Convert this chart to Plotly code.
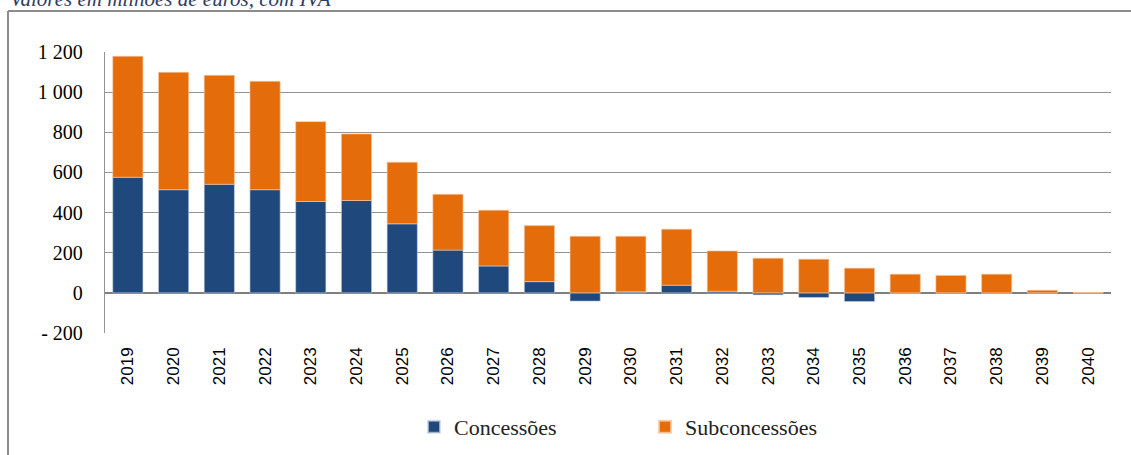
import plotly.graph_objects as go

years = [str(y) for y in range(2019, 2041)]
concessoes = [576, 514, 541, 514, 455, 460, 344, 213, 134, 56, -41, 5, 38, 8, -10, -23, -43, -2, 0, -2, 0, 0]
subconcessoes = [603, 585, 543, 540, 398, 332, 307, 278, 278, 279, 282, 277, 279, 201, 173, 168, 123, 93, 87, 93, 13, 2]
tick_vals = [-200, 0, 200, 400, 600, 800, 1000, 1200]
tick_text = ["- 200", "0", "200", "400", "600", "800", "1 000", "1 200"]
title_text = "Valores em milhões de euros, com IVA"

W, H = 1131, 455
L, R, T, B = 105, 20, 52, 122
pw, ph = W - L - R, H - T - B

def px(x):
    return (x - L) / pw

def py(y):
    return (H - B - y) / ph

BLUE = "#1F497D"
ORANGE = "#E46C0A"
SERIF = "'Liberation Serif', 'DejaVu Serif', 'Times New Roman', serif"
SANS = "'Liberation Sans', Arial, sans-serif"

fig = go.Figure()
fig.add_trace(go.Bar(x=years, y=concessoes, name="Concessões",
                     marker=dict(color=BLUE, line=dict(color="rgba(200,210,225,0.7)", width=0.8))))
fig.add_trace(go.Bar(x=years, y=subconcessoes, name="Subconcessões",
                     marker=dict(color=ORANGE, line=dict(color="rgba(250,200,160,0.8)", width=0.8))))

fig.update_layout(
    width=W, height=H,
    margin=dict(l=L, r=R, t=T, b=B, autoexpand=False),
    barmode="relative", bargap=0.34,
    plot_bgcolor="white", paper_bgcolor="white",
    font=dict(family=SERIF, color="black"),
    showlegend=True,
    legend=dict(orientation="h", x=px(414), xanchor="left", y=py(427), yanchor="middle",
                font=dict(family=SERIF, size=22, color="#222222"),
                entrywidth=186, entrywidthmode="pixels", traceorder="normal",
                itemsizing="constant", bgcolor="rgba(0,0,0,0)"),
    xaxis=dict(type="category", showgrid=False, showline=False, ticks="",
               tickangle=-90, tickfont=dict(family=SANS, size=17, color="black"),
               ticklabelstandoff=10),
    yaxis=dict(range=[-200, 1200], tickvals=tick_vals, ticktext=tick_text,
               showgrid=True, gridcolor="#949494", gridwidth=1.4,
               zeroline=True, zerolinecolor="#7f7f7f", zerolinewidth=2,
               showline=True, linecolor="#949494", linewidth=1.4,
               ticks="", tickfont=dict(family=SERIF, size=20, color="black"),
               ticklabelstandoff=17),
    shapes=[
        dict(type="line", xref="paper", yref="paper", x0=px(8), x1=px(W + 5), y0=py(11), y1=py(11),
             line=dict(color="#8c8c8c", width=2)),
        dict(type="line", xref="paper", yref="paper", x0=px(8), x1=px(8), y0=py(11), y1=py(H + 5),
             line=dict(color="#8c8c8c", width=2)),
    ],
    annotations=[
        dict(text=title_text, xref="paper", yref="paper", x=px(8), y=py(13),
             xanchor="left", yanchor="bottom", showarrow=False,
             font=dict(family=SERIF, size=21, color="#2E3C62", style="italic")),
    ],
)

fig.write_html("out.html")
